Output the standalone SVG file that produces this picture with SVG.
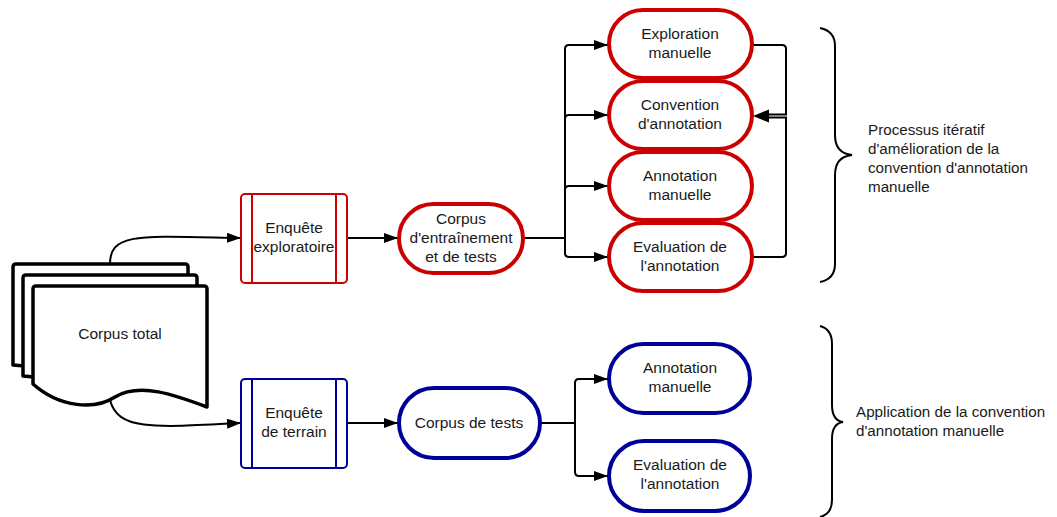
<svg xmlns="http://www.w3.org/2000/svg" width="1057" height="517" viewBox="0 0 1057 517">
<defs>
<marker id="arr" viewBox="0 0 14 10" refX="14" refY="5" markerWidth="14" markerHeight="10" markerUnits="userSpaceOnUse" orient="auto">
<path d="M0,0 L14,5 L0,10 Z" fill="#000"/>
</marker>
<style>
.t{font-family:"Liberation Sans",Arial,sans-serif;font-size:15.5px;fill:#1a1a1a;text-anchor:middle}
.b{font-family:"Liberation Sans",Arial,sans-serif;font-size:15.2px;fill:#1a1a1a}
.doc{fill:#fff;stroke:#000;stroke-width:3.5;stroke-linejoin:round}
.red{fill:#fff;stroke:#cc0000}
.blue{fill:#fff;stroke:#000099}
.sr{stroke-width:4}
.rr{stroke-width:2}
.c{fill:none;stroke:#000;stroke-width:2}
.br{fill:none;stroke:#000;stroke-width:2}
</style>
</defs>
<rect width="1057" height="517" fill="#fff"/>

<g id="connectors">
<path class="c" d="M110,264 C110,232 140,236 241,238" marker-end="url(#arr)"/>
<path class="c" d="M110,400 C118,430 150,428 241,423" marker-end="url(#arr)"/>
<path class="c" d="M347,238 H398" marker-end="url(#arr)"/>
<path class="c" d="M523,238 H565"/>
<path class="c" d="M565,238 V49 Q565,45 569,45 H608" marker-end="url(#arr)"/>
<path class="c" d="M565,119 Q565,115 569,115 H608" marker-end="url(#arr)"/>
<path class="c" d="M565,190 Q565,186 569,186 H608" marker-end="url(#arr)"/>
<path class="c" d="M565,238 V253 Q565,257 569,257 H608" marker-end="url(#arr)"/>
<path class="c" d="M752,45 H782 Q786,45 786,49 V114.5 H766"/>
<path class="c" d="M752,257 H782 Q786,257 786,253 V117.5 H766"/>
<path d="M753,116 L769,109.5 L769,122.5 Z" fill="#000"/>
<path class="c" d="M347,423 H398" marker-end="url(#arr)"/>
<path class="c" d="M540,423 H575"/>
<path class="c" d="M575,423 V383 Q575,379 579,379 H608" marker-end="url(#arr)"/>
<path class="c" d="M575,423 V472 Q575,476 579,476 H608" marker-end="url(#arr)"/>
</g>

<g id="corpus-total">
<path class="doc" d="M13,267 Q13,264 16,264 H185 Q188,264 188,267 V380 L13,365 Z"/>
<path class="doc" d="M23,278 Q23,275 26,275 H194 Q197,275 197,278 V392 L23,376 Z"/>
<path class="doc" d="M33,289 Q33,286 36,286 H204 Q207,286 207,289 V407 C175,395 140,382 115,397 C95,410 60,408 33,384 Z"/>
<text class="t" x="120" y="339">Corpus total</text>
</g>

<g id="enquete-exploratoire">
<rect class="red rr" x="241" y="194" width="106" height="89" rx="4"/>
<line x1="252" y1="194" x2="252" y2="283" stroke="#cc0000" stroke-width="2"/>
<line x1="336" y1="194" x2="336" y2="283" stroke="#cc0000" stroke-width="2"/>
<text class="t" x="294" y="233">Enquête</text>
<text class="t" x="294" y="252">exploratoire</text>
</g>

<g id="enquete-terrain">
<rect class="blue rr" x="241" y="379" width="106" height="89" rx="4"/>
<line x1="252" y1="379" x2="252" y2="468" stroke="#000099" stroke-width="2"/>
<line x1="336" y1="379" x2="336" y2="468" stroke="#000099" stroke-width="2"/>
<text class="t" x="294" y="418">Enquête</text>
<text class="t" x="294" y="437">de terrain</text>
</g>

<g id="corpus-entrainement">
<rect class="red sr" x="399" y="204" width="124" height="69" rx="34.5"/>
<text class="t" x="461" y="224">Corpus</text>
<text class="t" x="461" y="243">d'entraînement</text>
<text class="t" x="461" y="262">et de tests</text>
</g>

<g id="exploration-manuelle">
<rect class="red sr" x="609" y="10" width="143" height="68" rx="34"/>
<text class="t" x="680" y="39">Exploration</text>
<text class="t" x="680" y="58">manuelle</text>
</g>
<g id="convention-annotation">
<rect class="red sr" x="609" y="81" width="143" height="68" rx="34"/>
<text class="t" x="680" y="110">Convention</text>
<text class="t" x="680" y="129">d'annotation</text>
</g>
<g id="annotation-manuelle-1">
<rect class="red sr" x="609" y="152" width="143" height="68" rx="34"/>
<text class="t" x="680" y="181">Annotation</text>
<text class="t" x="680" y="200">manuelle</text>
</g>
<g id="evaluation-1">
<rect class="red sr" x="609" y="223" width="143" height="68" rx="34"/>
<text class="t" x="680" y="252">Evaluation de</text>
<text class="t" x="680" y="271">l'annotation</text>
</g>

<g id="corpus-tests">
<rect class="blue sr" x="399" y="388" width="141" height="70" rx="35"/>
<text class="t" x="469" y="428">Corpus de tests</text>
</g>
<g id="annotation-manuelle-2">
<rect class="blue sr" x="609" y="344" width="141" height="69" rx="34.5"/>
<text class="t" x="680" y="373">Annotation</text>
<text class="t" x="680" y="392">manuelle</text>
</g>
<g id="evaluation-2">
<rect class="blue sr" x="609" y="441" width="141" height="70" rx="35"/>
<text class="t" x="680" y="470">Evaluation de</text>
<text class="t" x="680" y="489">l'annotation</text>
</g>

<g id="brace-1">
<path class="br" d="M820,28 C830,30 835,36 835,46 V135 C835,148 842,154 852,155 C842,156 835,162 835,175 V264 C835,274 830,280 820,282"/>
<text class="b" x="868" y="135">Processus itératif</text>
<text class="b" x="868" y="154">d'amélioration de la</text>
<text class="b" x="868" y="173">convention d'annotation</text>
<text class="b" x="868" y="192">manuelle</text>
</g>
<g id="brace-2">
<path class="br" d="M820,326 C828,328 832,334 832,344 V405 C832,416 836,421 843,422 C836,423 832,428 832,439 V500 C832,510 828,515 820,517"/>
<text class="b" x="856" y="417">Application de la convention</text>
<text class="b" x="856" y="436">d'annotation manuelle</text>
</g>
</svg>
